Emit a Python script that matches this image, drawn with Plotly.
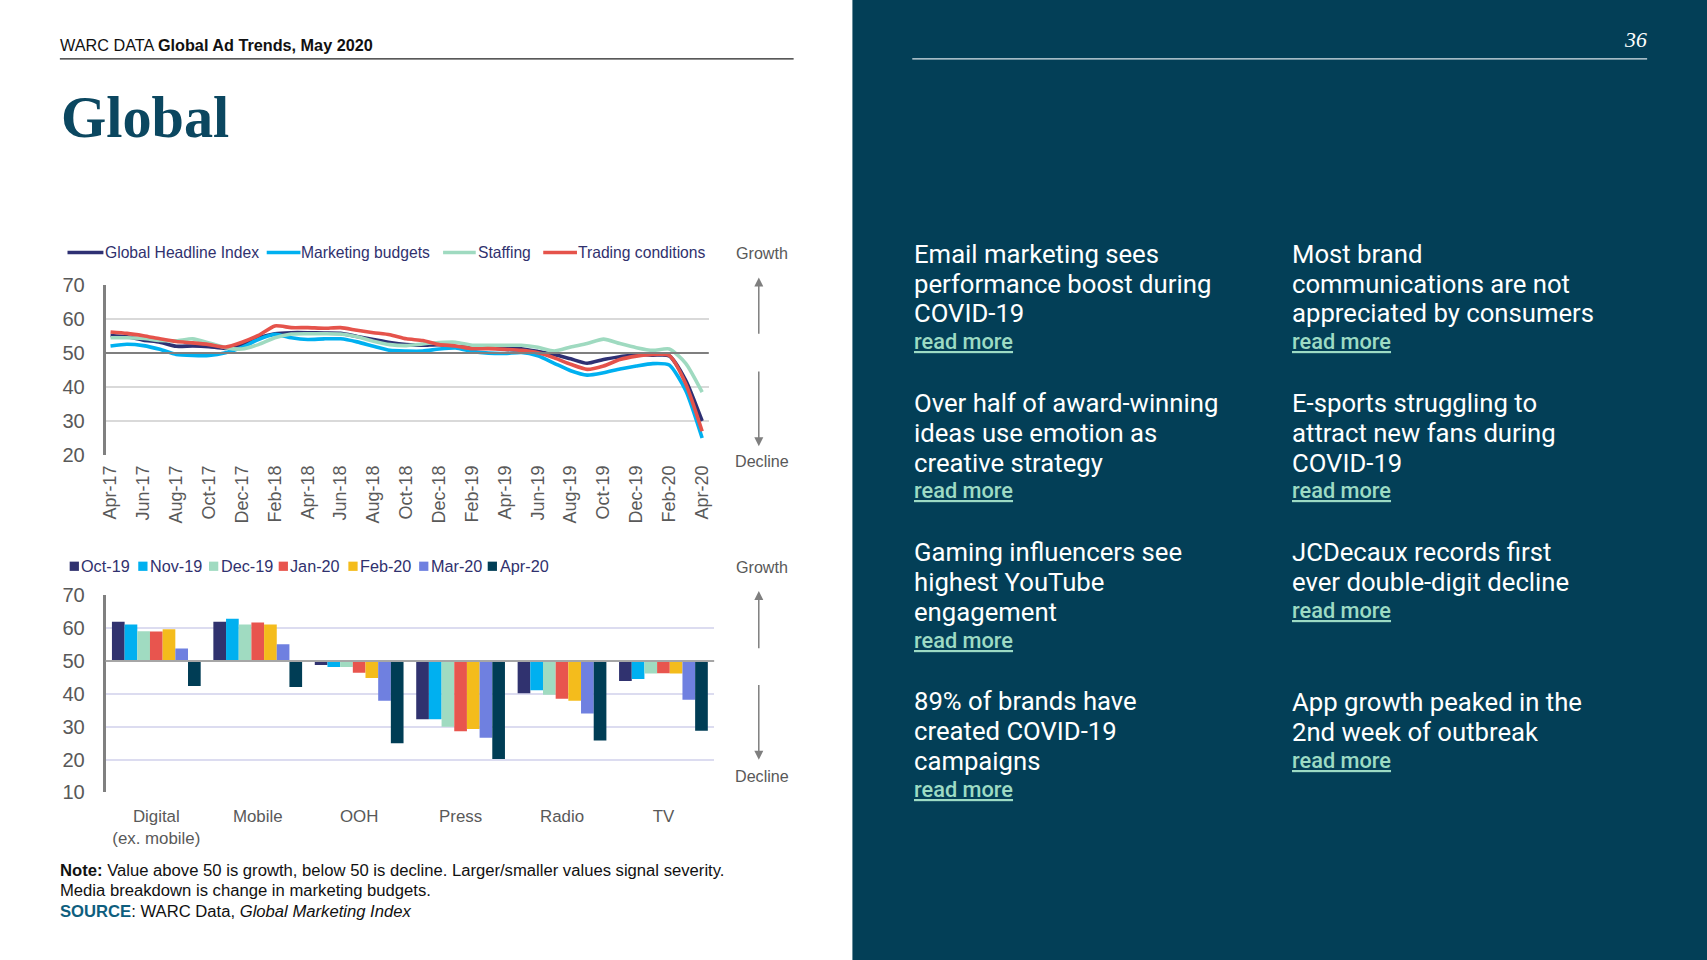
import plotly.graph_objects as go

# ---------------- data ----------------
months = ["Apr-17", "May-17", "Jun-17", "Jul-17", "Aug-17", "Sep-17", "Oct-17", "Nov-17", "Dec-17",
          "Jan-18", "Feb-18", "Mar-18", "Apr-18", "May-18", "Jun-18", "Jul-18", "Aug-18", "Sep-18",
          "Oct-18", "Nov-18", "Dec-18", "Jan-19", "Feb-19", "Mar-19", "Apr-19", "May-19", "Jun-19",
          "Jul-19", "Aug-19", "Sep-19", "Oct-19", "Nov-19", "Dec-19", "Jan-20", "Feb-20", "Mar-20",
          "Apr-20"]
headline = [55.2, 54.8, 53.8, 53.2, 52.0, 52.1, 51.9, 51.4, 52.5, 54.5, 55.7, 56.0, 56.0, 55.9, 55.8,
            54.9, 54.0, 53.1, 52.5, 52.3, 52.5, 51.9, 51.6, 51.5, 51.3, 51.3, 50.5, 49.6, 48.3, 47.0,
            48.1, 48.9, 49.6, 49.4, 49.2, 42.0, 30.0]
budgets = [52.1, 52.6, 52.2, 51.1, 49.6, 49.3, 49.3, 50.1, 51.7, 54.0, 55.5, 54.5, 54.0, 54.2, 54.2,
           53.3, 52.0, 50.8, 50.6, 50.6, 51.2, 51.5, 50.5, 50.0, 49.9, 50.2, 49.2, 47.0, 44.8, 43.5,
           44.2, 45.3, 46.2, 46.9, 46.5, 39.0, 25.0]
staffing = [54.5, 54.5, 54.3, 53.7, 53.6, 54.2, 53.0, 51.6, 51.2, 52.5, 54.5, 55.6, 55.7, 55.7, 55.6,
            54.8, 53.5, 52.5, 52.2, 52.7, 53.1, 53.2, 52.3, 52.3, 52.3, 52.3, 51.7, 50.6, 51.8, 52.8,
            54.1, 52.8, 51.6, 50.8, 51.2, 47.0, 38.5]
trading = [56.2, 55.8, 55.1, 54.2, 53.4, 53.0, 52.5, 51.8, 53.2, 55.2, 58.0, 57.5, 57.5, 57.3, 57.5,
           56.7, 56.0, 55.4, 54.2, 53.7, 52.5, 52.1, 51.3, 51.3, 51.1, 50.8, 50.1, 48.6, 46.7, 45.2,
           46.2, 48.1, 49.1, 49.6, 49.3, 41.0, 27.0]
line_names = ["Global Headline Index", "Marketing budgets", "Staffing", "Trading conditions"]
line_values = [headline, budgets, staffing, trading]
line_colors = ["#2E3073", "#00B0F0", "#9FDAC0", "#E5534B"]

media = ["Digital<br>(ex. mobile)", "Mobile", "OOH", "Press", "Radio", "TV"]
bar_periods = ["Oct-19", "Nov-19", "Dec-19", "Jan-20", "Feb-20", "Mar-20", "Apr-20"]
oct19 = [62.0, 62.0, 48.8, 32.3, 40.2, 43.9]
nov19 = [61.1, 62.9, 48.2, 32.3, 41.1, 44.5]
dec19 = [59.1, 61.1, 48.2, 30.0, 39.7, 46.2]
jan20 = [59.0, 61.7, 46.4, 28.6, 38.5, 46.3]
feb20 = [59.7, 61.1, 44.8, 29.3, 37.9, 46.2]
mar20 = [53.8, 55.1, 37.9, 26.6, 34.0, 38.2]
apr20 = [42.4, 42.1, 25.0, 20.2, 25.8, 28.8]
bar_values = [oct19, nov19, dec19, jan20, feb20, mar20, apr20]
bar_colors = ["#30326F", "#00B0F0", "#A0DBC1", "#E8554E", "#F4BC1C", "#6F80E0", "#003D55"]

line_ticks = [20, 30, 40, 50, 60, 70]
bar_ticks = [10, 20, 30, 40, 50, 60, 70]
neutral = 50

stories_left = [
    ["Email marketing sees", "performance boost during", "COVID-19"],
    ["Over half of award-winning", "ideas use emotion as", "creative strategy"],
    ["Gaming influencers see", "highest YouTube", "engagement"],
    ["89% of brands have", "created COVID-19", "campaigns"],
]
stories_right = [
    ["Most brand", "communications are not", "appreciated by consumers"],
    ["E-sports struggling to", "attract new fans during", "COVID-19"],
    ["JCDecaux records first", "ever double-digit decline"],
    ["App growth peaked in the", "2nd week of outbreak"],
]

# ---------------- layout helpers (reference measured on 1568x882) ----------------
W, H = 1707, 960
RW, RH = 1568.0, 882.0
S = W / RW


def px(x):
    return x / RW


def py(y):
    return 1 - y / RH


def fs(v):
    return v * S


SANS = "Liberation Sans, Arial, sans-serif"
PANEL_FONT = "Roboto, Liberation Sans, sans-serif"
GRAY = "#595959"
LEG_TXT = "#30316E"
PANEL_BG = "#033F57"

fig = go.Figure()

# line chart
for name, vals, col in zip(line_names, line_values, line_colors):
    fig.add_trace(go.Scatter(x=months, y=vals, name=name, mode="lines",
                             line=dict(color=col, width=3.6, shape="spline", smoothing=0.6),
                             showlegend=False, xaxis="x", yaxis="y"))

# bar chart (bars drawn from the neutral 50 line)
for per, vals, col in zip(bar_periods, bar_values, bar_colors):
    fig.add_trace(go.Bar(x=media, y=[v - neutral for v in vals], base=neutral, name=per,
                         marker=dict(color=col, line=dict(width=0)), showlegend=False,
                         xaxis="x2", yaxis="y2"))

fig.update_layout(
    template="none",
    width=W, height=H,
    margin=dict(l=0, r=0, t=0, b=0, pad=0, autoexpand=False),
    paper_bgcolor="white", plot_bgcolor="white",
    showlegend=False,
    barmode="group", bargap=0.125, bargroupgap=0.0,
    xaxis=dict(domain=[px(97), px(651)], type="category", range=[-0.3, 36.4], automargin=False,
               tickvals=months[::2], tickangle=-90, showgrid=False, zeroline=False,
               showline=False, ticks="", tickfont=dict(family=SANS, size=fs(16.5), color=GRAY),
               ticklabelstandoff=6),
    yaxis=dict(domain=[py(418), py(262)], range=[20, 70], tickvals=line_ticks, automargin=False,
               showgrid=True, gridcolor="#D9D9D9", gridwidth=2, zeroline=False,
               showline=True, linecolor="#808080", linewidth=2.5, ticks="",
               tickfont=dict(family=SANS, size=fs(18.5), color=GRAY), ticklabelstandoff=14),
    xaxis2=dict(domain=[px(97), px(656)], type="category", showgrid=False, zeroline=False,
                showline=False, ticks="", tickfont=dict(family=SANS, size=fs(15.5), color=GRAY),
                ticklabelstandoff=12, anchor="y2", automargin=False),
    yaxis2=dict(domain=[py(728), py(547)], range=[10, 70], tickvals=bar_ticks, automargin=False,
                showgrid=True, gridcolor="#DCDCF0", gridwidth=2, zeroline=False,
                showline=True, linecolor="#808080", linewidth=2.5, ticks="",
                tickfont=dict(family=SANS, size=fs(18.5), color=GRAY), ticklabelstandoff=14,
                anchor="x2"),
)

shapes = []
annotations = []

# neutral lines
shapes.append(dict(type="line", xref="x domain", yref="y", x0=0, x1=1, y0=neutral, y1=neutral,
                   line=dict(color="#7F7F7F", width=2)))
shapes.append(dict(type="line", xref="x2 domain", yref="y2", x0=0, x1=1, y0=neutral, y1=neutral,
                   line=dict(color="#A6A6A6", width=2)))

# right panel
shapes.append(dict(type="rect", xref="paper", yref="paper", x0=px(783), x1=1.01, y0=-0.01, y1=1.01,
                   fillcolor=PANEL_BG, line=dict(width=0), layer="below"))
# header rules
shapes.append(dict(type="line", xref="paper", yref="paper", x0=px(55), x1=px(729), y0=py(54), y1=py(54),
                   line=dict(color="#222222", width=1.2)))
shapes.append(dict(type="line", xref="paper", yref="paper", x0=px(838), x1=px(1513), y0=py(54), y1=py(54),
                   line=dict(color="#DDE6EA", width=1.2)))

# header text
annotations.append(dict(xref="paper", yref="paper", x=px(53), y=py(41), xanchor="left", yanchor="middle",
                        text="WARC DATA <b>Global Ad Trends, May 2020</b>", showarrow=False,
                        font=dict(family=SANS, size=fs(14.9), color="#111111")))
annotations.append(dict(xref="paper", yref="paper", x=px(1515), y=py(37), xanchor="right", yanchor="middle",
                        text="<i>36</i>", showarrow=False,
                        font=dict(family="Liberation Serif, serif", size=fs(20), color="white")))
annotations.append(dict(xref="paper", yref="paper", x=px(54), y=py(108), xanchor="left", yanchor="middle",
                        text="<b>Global</b>", showarrow=False,
                        font=dict(family="Liberation Serif, serif", size=fs(53.5), color="#0B4760")))

# line chart legend (manual)
leg_line_pos = [(62, 95, 95), (245, 276, 275), (407, 437, 437), (499, 530, 529)]
for (x0, x1, xt), name, col in zip(leg_line_pos, line_names, line_colors):
    shapes.append(dict(type="line", xref="paper", yref="paper", x0=px(x0), x1=px(x1), y0=py(232), y1=py(232),
                       line=dict(color=col, width=3.6)))
    annotations.append(dict(xref="paper", yref="paper", x=px(xt), y=py(232), xanchor="left", yanchor="middle",
                            text=name, showarrow=False, font=dict(family=SANS, size=fs(14.4), color=LEG_TXT)))

# bar chart legend (manual)
leg_bar_pos = [64, 127, 192, 256, 320, 385, 448]
for x0, per, col in zip(leg_bar_pos, bar_periods, bar_colors):
    shapes.append(dict(type="rect", xref="paper", yref="paper", x0=px(x0), x1=px(x0 + 8.5),
                       y0=py(524.5), y1=py(516), fillcolor=col, line=dict(width=0)))
    annotations.append(dict(xref="paper", yref="paper", x=px(x0 + 9), y=py(520), xanchor="left",
                            yanchor="middle", text=per, showarrow=False,
                            font=dict(family=SANS, size=fs(14.9), color=LEG_TXT)))

# growth / decline markers
for gy, dy, h_up, t_up, h_dn, t_dn in [(232, 424, 255, 308, 410, 340), (521, 713, 543, 597, 698, 628)]:
    annotations.append(dict(xref="paper", yref="paper", x=px(700), y=py(gy), text="Growth", showarrow=False,
                            xanchor="center", yanchor="middle", font=dict(family=SANS, size=fs(14.8), color=GRAY)))
    annotations.append(dict(xref="paper", yref="paper", x=px(700), y=py(dy), text="Decline", showarrow=False,
                            xanchor="center", yanchor="middle", font=dict(family=SANS, size=fs(14.8), color=GRAY)))
    annotations.append(dict(xref="paper", yref="paper", x=px(697), y=py(h_up), text="", showarrow=True,
                            ax=0, ay=(t_up - h_up) * S, arrowhead=2, arrowsize=1.2, arrowwidth=1.5,
                            arrowcolor="#7F7F7F"))
    annotations.append(dict(xref="paper", yref="paper", x=px(697), y=py(h_dn), text="", showarrow=True,
                            ax=0, ay=(t_dn - h_dn) * S, arrowhead=2, arrowsize=1.2, arrowwidth=1.5,
                            arrowcolor="#7F7F7F"))

# footnote
note_lines = [
    "<b>Note:</b> Value above 50 is growth, below 50 is decline. Larger/smaller values signal severity.",
    "Media breakdown is change in marketing budgets.",
    "<b><span style='color:#0E5E7E'>SOURCE</span></b>: WARC Data, <i>Global Marketing Index</i>",
]
for i, t in enumerate(note_lines):
    annotations.append(dict(xref="paper", yref="paper", x=px(53), y=py(800 + 18.5 * i), xanchor="left",
                            yanchor="middle", text=t, showarrow=False,
                            font=dict(family=SANS, size=fs(15.3), color="#111111")))

# right panel stories
block_tops_left = [233, 370, 507, 644]
block_tops_right = [233, 370, 507, 645]
LINE_H = 27.5
for col_x, stories, tops in [(840, stories_left, block_tops_left), (1187, stories_right, block_tops_right)]:
    for lines, top in zip(stories, tops):
        for j, ln in enumerate(lines):
            annotations.append(dict(xref="paper", yref="paper", x=px(col_x - 2), y=py(top + LINE_H * j),
                                    xanchor="left", yanchor="middle", text=ln, showarrow=False,
                                    font=dict(family=PANEL_FONT, size=fs(23.6), color="white")))
        annotations.append(dict(xref="paper", yref="paper", x=px(col_x - 2),
                                y=py(top + LINE_H * len(lines) - 1.5),
                                xanchor="left", yanchor="middle", text="<u>read more</u>", showarrow=False,
                                font=dict(family=PANEL_FONT, size=fs(20), color="#9DDBC4", weight=500)))

fig.update_layout(shapes=shapes, annotations=annotations)

page_fix = ("document.documentElement.style.margin='0';document.body.style.margin='0';"
            "document.body.style.overflow='hidden';"
            "var gd=document.getElementById('{plot_id}');"
            "gd.style.position='fixed';gd.style.left='0px';gd.style.top='0px';window.scrollTo(0,0);")
fig.write_html("out.html", post_script=page_fix, config={"displayModeBar": False})
